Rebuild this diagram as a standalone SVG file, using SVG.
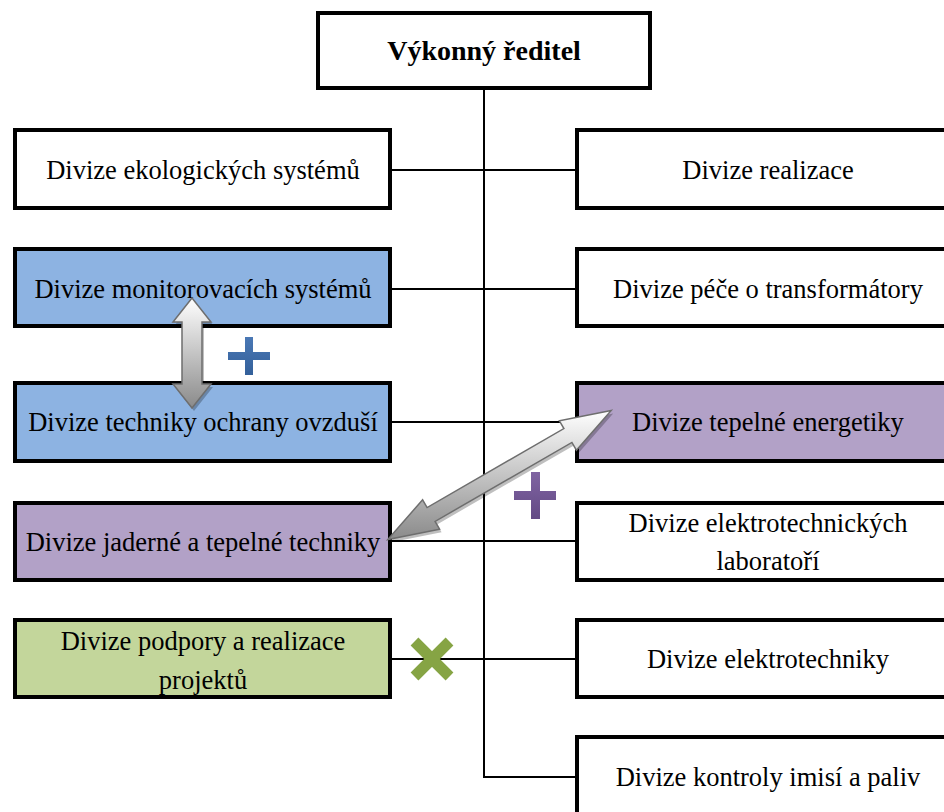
<svg xmlns="http://www.w3.org/2000/svg" width="944" height="812" viewBox="0 0 944 812">
<style>
.box{stroke:#000;stroke-width:4}
.w{fill:#fff}.b{fill:#8DB3E2}.p{fill:#B2A1C7}.g{fill:#C3D69B}
.t{font-family:'Liberation Serif','Times New Roman',serif;font-size:26.5px;fill:#000;text-anchor:middle}
.tb{font-weight:bold;font-size:28px}
.ln{stroke:#000;stroke-width:2;fill:none}
.arr{stroke:#6e6e6e;stroke-width:1.5}
.sh{fill:#000;opacity:0.25}
</style>
<defs>
<linearGradient id="gv" gradientUnits="userSpaceOnUse" x1="0" y1="298" x2="0" y2="408">
<stop offset="0" stop-color="#ffffff"/><stop offset="1" stop-color="#8a8a8a"/>
</linearGradient>
<linearGradient id="gd" gradientUnits="userSpaceOnUse" x1="0" y1="410" x2="0" y2="540">
<stop offset="0" stop-color="#ffffff"/><stop offset="1" stop-color="#8a8a8a"/>
</linearGradient>
<linearGradient id="gb" x1="0" y1="0" x2="0" y2="1">
<stop offset="0" stop-color="#4A78B5"/><stop offset="1" stop-color="#33609A"/>
</linearGradient>
<linearGradient id="gp" x1="0" y1="0" x2="0" y2="1">
<stop offset="0" stop-color="#8064A2"/><stop offset="1" stop-color="#634A85"/>
</linearGradient>
</defs>

<g id="connectors">
<path class="ln" d="M484 88 V777 H577"/>
<line class="ln" x1="390" y1="170" x2="577" y2="170"/>
<line class="ln" x1="390" y1="289" x2="577" y2="289"/>
<line class="ln" x1="390" y1="422" x2="577" y2="422"/>
<line class="ln" x1="390" y1="541" x2="577" y2="541"/>
<line class="ln" x1="390" y1="659" x2="577" y2="659"/>
</g>

<g id="n-reditel"><rect class="box w" x="318" y="13" width="332" height="75"/><text class="t tb" x="484" y="60">Výkonný ředitel</text></g>

<g id="n-ekolog"><rect class="box w" x="15" y="130" width="375" height="78"/><text class="t" x="203" y="179">Divize ekologických systémů</text></g>
<g id="n-monitor"><rect class="box b" x="15" y="249" width="375" height="77"/><text class="t" x="203" y="298">Divize monitorovacích systémů</text></g>
<g id="n-ovzdusi"><rect class="box b" x="15" y="383" width="375" height="78"/><text class="t" x="203" y="431">Divize techniky ochrany ovzduší</text></g>
<g id="n-jaderne"><rect class="box p" x="15" y="503" width="375" height="77"/><text class="t" x="203" y="551">Divize jaderné a tepelné techniky</text></g>
<g id="n-podpora"><rect class="box g" x="15" y="620" width="375" height="77"/><text class="t" x="203" y="650">Divize podpory a realizace</text><text class="t" x="203" y="689">projektů</text></g>

<g id="n-realizace"><rect class="box w" x="577" y="130" width="383" height="78"/><text class="t" x="768" y="179">Divize realizace</text></g>
<g id="n-transform"><rect class="box w" x="577" y="249" width="383" height="77"/><text class="t" x="768" y="298">Divize péče o transformátory</text></g>
<g id="n-tepelne"><rect class="box p" x="577" y="383" width="383" height="78"/><text class="t" x="768" y="431">Divize tepelné energetiky</text></g>
<g id="n-laborator"><rect class="box w" x="577" y="503" width="383" height="77"/><text class="t" x="768" y="532">Divize elektrotechnických</text><text class="t" x="768" y="570">laboratoří</text></g>
<g id="n-elektro"><rect class="box w" x="577" y="620" width="383" height="77"/><text class="t" x="768" y="668">Divize elektrotechniky</text></g>
<g id="n-imise"><rect class="box w" x="577" y="737" width="383" height="90"/><text class="t" x="768" y="786">Divize kontroly imisí a paliv</text></g>

<g id="annotations">
<polygon class="sh" transform="translate(2,3)" points="192,298 211,322 202,322 202,384 211,384 192,408 173,384 182,384 182,322 173,322"/>
<polygon class="arr" fill="url(#gv)" points="192,298 211,322 202,322 202,384 211,384 192,408 173,384 182,384 182,322 173,322"/>
<polygon class="sh" transform="translate(2,3)" points="611.2,410.5 559.4,420.8 563.9,428.6 427.1,507.6 422.6,499.8 387.8,539.5 439.6,529.2 435.1,521.4 571.9,442.4 576.4,450.2"/>
<polygon class="arr" fill="url(#gd)" points="611.2,410.5 559.4,420.8 563.9,428.6 427.1,507.6 422.6,499.8 387.8,539.5 439.6,529.2 435.1,521.4 571.9,442.4 576.4,450.2"/>
<path fill="url(#gb)" d="M228 352 H245 V337 H253 V352 H270 V360 H253 V375 H245 V360 H228 Z"/>
<path fill="url(#gp)" d="M514 491 H531 V472 H540 V491 H556 V500 H540 V519 H531 V500 H514 Z"/>
<g transform="translate(432,659)" stroke="#86A444" stroke-width="11">
<line x1="-17.5" y1="-17.5" x2="17.5" y2="17.5"/><line x1="-17.5" y1="17.5" x2="17.5" y2="-17.5"/>
</g>
</g>
</svg>
